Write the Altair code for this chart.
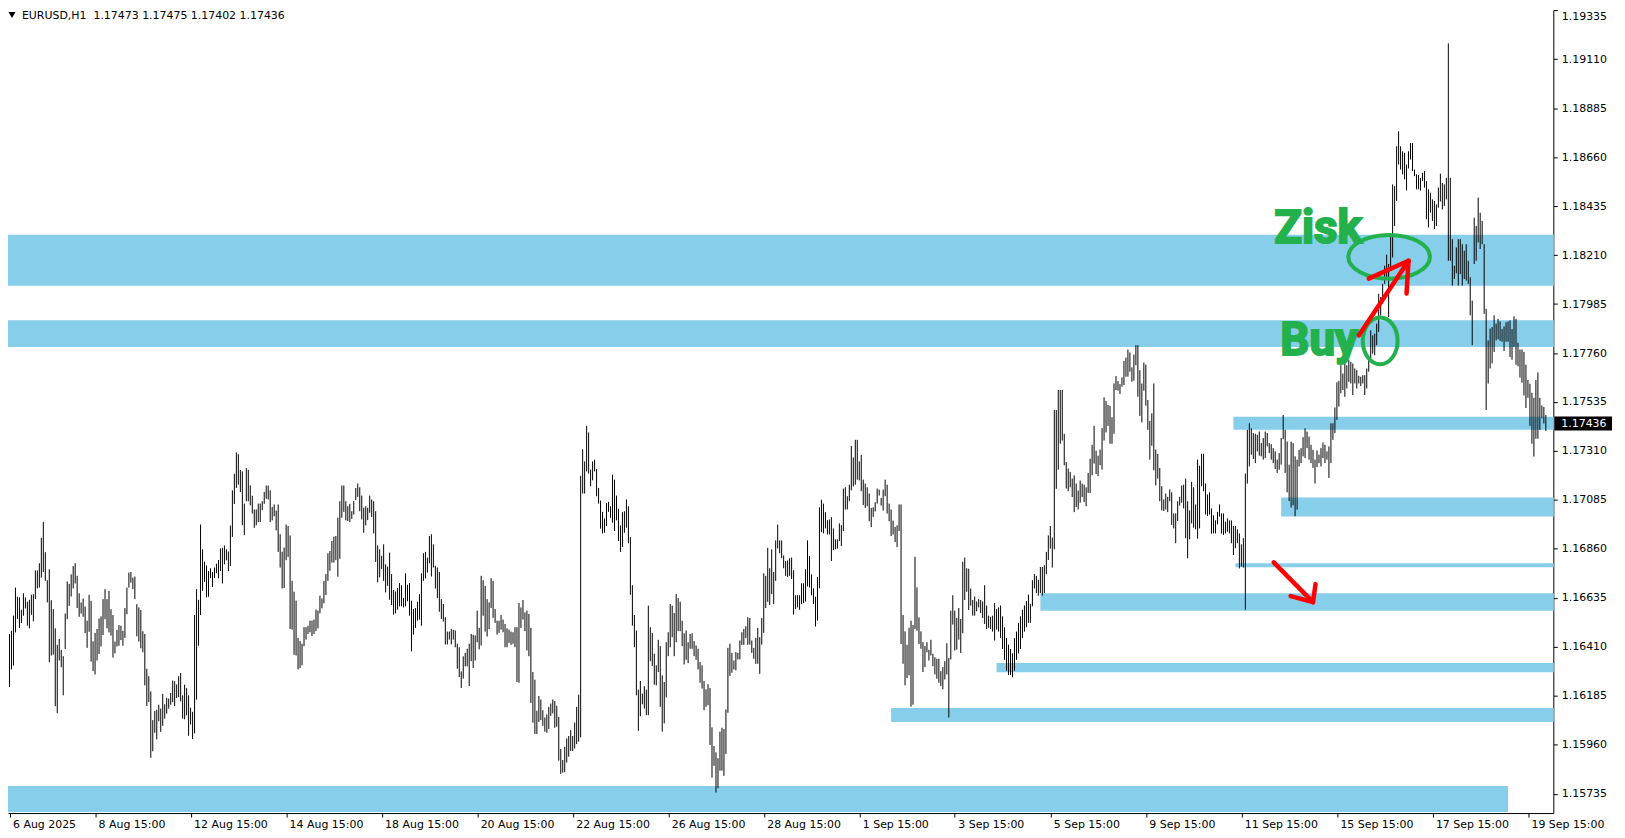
import altair as alt
import pandas as pd

# ---------------- data (EURUSD H1 bars) ----------------
high = [
1.16286,1.16358,1.16377,1.16469,1.16484,1.16553,1.16682,1.16640,1.16637,1.16580,
1.16656,1.16637,1.16617,1.16626,1.16649,1.16652,1.16761,1.16761,1.16794,1.16911,
1.16984,1.16845,1.16716,1.16766,1.16624,1.16583,1.16495,1.16419,1.16446,1.16396,
1.16367,1.16563,1.16710,1.16699,1.16743,1.16781,1.16794,1.16736,1.16656,1.16614,
1.16632,1.16595,1.16530,1.16649,1.16621,1.16435,1.16473,1.16492,1.16540,1.16550,
1.16629,1.16675,1.16629,1.16667,1.16583,1.16556,1.16434,1.16487,1.16510,1.16507,
1.16484,1.16588,1.16682,1.16751,1.16754,1.16728,1.16733,1.16606,1.16591,1.16579,
1.16481,1.16469,1.16309,1.16275,1.16205,1.16073,1.16115,1.16121,1.16144,1.16126,
1.16194,1.16146,1.16176,1.16172,1.16198,1.16255,1.16252,1.16237,1.16275,1.16290,
1.16187,1.16236,1.16220,1.16187,1.16130,1.16111,1.16556,1.16675,1.16626,1.16972,
1.16858,1.16801,1.16784,1.16758,1.16771,1.16754,1.16774,1.16792,1.16809,1.16862,
1.16865,1.16876,1.16858,1.16848,1.16967,1.17129,1.17205,1.17303,1.17295,1.17223,
1.17216,1.17068,1.17231,1.17223,1.17152,1.17104,1.17041,1.17041,1.17068,1.17068,
1.17079,1.17122,1.17151,1.17151,1.17129,1.17052,1.17064,1.17036,1.17064,1.16927,
1.16847,1.16866,1.16972,1.16965,1.16922,1.16713,1.16663,1.16622,1.16451,1.16436,
1.16424,1.16500,1.16500,1.16507,1.16530,1.16530,1.16535,1.16581,1.16576,1.16645,
1.16632,1.16713,1.16744,1.16840,1.16850,1.16896,1.16916,1.16919,1.17003,1.17079,
1.17151,1.17151,1.17079,1.17056,1.17067,1.17033,1.17079,1.17140,1.17160,1.17143,
1.17105,1.17049,1.17056,1.17049,1.17105,1.17087,1.17079,1.17033,1.16876,1.16858,
1.16828,1.16881,1.16789,1.16779,1.16843,1.16744,1.16671,1.16664,1.16680,1.16703,
1.16693,1.16635,1.16748,1.16695,1.16703,1.16622,1.16584,1.16588,1.16617,1.16652,
1.16748,1.16840,1.16846,1.16820,1.16919,1.16927,1.16881,1.16782,1.16774,1.16754,
1.16629,1.16607,1.16546,1.16480,1.16480,1.16492,1.16488,1.16485,1.16424,1.16408,
1.16297,1.16366,1.16382,1.16401,1.16424,1.16469,1.16465,1.16462,1.16576,1.16497,
1.16736,1.16716,1.16690,1.16629,1.16614,1.16725,1.16713,1.16584,1.16530,1.16530,
1.16556,1.16535,1.16515,1.16495,1.16489,1.16480,1.16477,1.16500,1.16500,1.16611,
1.16591,1.16625,1.16568,1.16576,1.16561,1.16497,1.16294,1.16259,1.16116,1.16184,
1.16168,1.16119,1.16085,1.16099,1.16134,1.16149,1.16168,1.16161,1.16139,1.16088,
1.15940,1.15890,1.15951,1.15989,1.16000,1.16027,1.16000,1.16062,1.16134,1.16190,
1.17196,1.17318,1.17262,1.17425,1.17395,1.17224,1.17262,1.17270,1.17227,1.17140,
1.17082,1.17030,1.17000,1.17071,1.17076,1.17056,1.17201,1.17178,1.17105,1.17044,
1.16968,1.17029,1.17033,1.17087,1.17056,1.16914,1.16693,1.16556,1.16485,1.16213,
1.16253,1.16195,1.16229,1.16213,1.16599,1.16500,1.16474,1.16378,1.16325,1.16442,
1.16413,1.16279,1.16248,1.16431,1.16477,1.16607,1.16599,1.16565,1.16652,1.16634,
1.16617,1.16530,1.16472,1.16485,1.16431,1.16469,1.16472,1.16436,1.16416,1.16401,
1.16340,1.16325,1.16253,1.16215,1.16238,1.16221,1.16040,1.15954,1.15925,1.15898,
1.16020,1.16038,1.16032,1.16122,1.16405,1.16424,1.16382,1.16347,1.16386,1.16382,
1.16439,1.16477,1.16492,1.16504,1.16546,1.16542,1.16439,1.16405,1.16451,1.16497,
1.16454,1.16542,1.16748,1.16736,1.16865,1.16771,1.16858,1.16754,1.16899,1.16972,
1.16899,1.16899,1.16830,1.16804,1.16807,1.16817,1.16820,1.16762,1.16647,1.16647,
1.16647,1.16702,1.16702,1.16766,1.16899,1.16827,1.16743,1.16679,1.16640,1.16731,
1.17051,1.17086,1.17068,1.17029,1.16992,1.16995,1.17006,1.16954,1.16904,1.16904,
1.16977,1.16969,1.17137,1.17143,1.17102,1.17155,1.17333,1.17280,1.17361,1.17361,
1.17262,1.17292,1.17178,1.17160,1.17143,1.17114,1.17048,1.17051,1.17074,1.17137,
1.17132,1.17094,1.17132,1.17178,1.17155,1.17068,1.17041,1.16990,1.16961,1.16968,
1.17064,1.17064,1.16556,1.16481,1.16419,1.16497,1.16530,1.16510,1.16824,1.16683,
1.16545,1.16481,1.16431,1.16413,1.16431,1.16396,1.16442,1.16378,1.16362,1.16355,
1.16355,1.16298,1.16317,1.16344,1.16426,1.16358,1.16576,1.16647,1.16576,1.16542,
1.16588,1.16538,1.16801,1.16820,1.16771,1.16769,1.16678,1.16625,1.16641,1.16618,
1.16629,1.16625,1.16618,1.16693,1.16599,1.16553,1.16548,1.16553,1.16611,1.16583,
1.16591,1.16600,1.16550,1.16500,1.16450,1.16420,1.16400,1.16380,1.16450,1.16480,
1.16520,1.16550,1.16580,1.16600,1.16620,1.16650,1.16607,1.16716,1.16744,1.16736,
1.16718,1.16777,1.16777,1.16785,1.16846,1.16922,1.16965,1.16912,1.17498,1.17498,
1.17590,1.17590,1.17590,1.17389,1.17259,1.17229,1.17213,1.17183,1.17198,1.17160,
1.17128,1.17174,1.17160,1.17155,1.17143,1.17209,1.17274,1.17338,1.17425,1.17311,
1.17288,1.17316,1.17415,1.17556,1.17540,1.17521,1.17517,1.17465,1.17620,1.17654,
1.17631,1.17617,1.17648,1.17723,1.17739,1.17776,1.17762,1.17694,1.17753,1.17796,
1.17796,1.17681,1.17620,1.17716,1.17707,1.17544,1.17448,1.17483,1.17620,1.17316,
1.17296,1.17232,1.17148,1.17087,1.17114,1.17099,1.17133,1.17120,1.17023,1.17023,
1.17079,1.17099,1.17151,1.17155,1.17183,1.17079,1.17037,1.17168,1.17143,1.17064,
1.17270,1.17242,1.17297,1.17297,1.17160,1.17110,1.17120,1.17046,1.17014,1.16991,
1.17030,1.17064,1.17023,1.17023,1.16985,1.17000,1.16991,1.16991,1.16965,1.16965,
1.16950,1.16931,1.16881,1.16909,1.17206,1.17407,1.17437,1.17414,1.17392,1.17389,
1.17384,1.17399,1.17346,1.17369,1.17399,1.17392,1.17346,1.17341,1.17323,1.17308,
1.17270,1.17300,1.17369,1.17475,1.17407,1.17353,1.17247,1.17353,1.17346,1.17285,
1.17270,1.17315,1.17323,1.17373,1.17414,1.17399,1.17376,1.17338,1.17315,1.17270,
1.17312,1.17293,1.17323,1.17349,1.17338,1.17308,1.17331,1.17437,1.17437,1.17510,
1.17625,1.17632,1.17704,1.17666,1.17712,1.17704,1.17727,1.17719,1.17712,1.17689,
1.17681,1.17655,1.17651,1.17658,1.17658,1.17689,1.17727,1.17864,1.17841,1.17849,
1.17895,1.18032,1.18017,1.18078,1.18161,1.18212,1.18169,1.18299,1.18535,1.18527,
1.18710,1.18779,1.18710,1.18687,1.18680,1.18626,1.18687,1.18725,1.18725,1.18603,
1.18581,1.18578,1.18565,1.18588,1.18596,1.18550,1.18512,1.18497,1.18466,1.18459,
1.18443,1.18520,1.18584,1.18542,1.18535,1.18565,1.19183,1.18565,1.18283,1.18161,
1.18245,1.18283,1.18283,1.18260,1.18230,1.18260,1.18184,1.18108,1.18001,1.18382,
1.18344,1.18474,1.18405,1.18367,1.18260,1.17963,1.17818,1.17872,1.17879,1.17933,
1.17895,1.17917,1.17905,1.17870,1.17882,1.17901,1.17905,1.17910,1.17870,1.17929,
1.17917,1.17807,1.17776,1.17776,1.17765,1.17706,1.17636,1.17619,1.17577,1.17554,
1.17636,1.17671,1.17554,1.17519,1.17512,1.17475,
]

low = [
1.16004,1.16167,1.16217,1.16225,1.16306,1.16324,1.16476,1.16537,1.16496,1.16519,
1.16553,1.16586,1.16507,1.16495,1.16557,1.16527,1.16629,1.16678,1.16682,1.16728,
1.16754,1.16713,1.16614,1.16339,1.16370,1.16374,1.16137,1.16105,1.16347,1.16316,
1.16187,1.16400,1.16537,1.16598,1.16641,1.16678,1.16701,1.16588,1.16548,1.16563,
1.16548,1.16473,1.16405,1.16479,1.16342,1.16298,1.16283,1.16347,1.16377,1.16412,
1.16464,1.16537,1.16495,1.16476,1.16461,1.16361,1.16380,1.16411,1.16415,1.16441,
1.16415,1.16451,1.16560,1.16682,1.16705,1.16675,1.16629,1.16458,1.16434,1.16403,
1.16385,1.16233,1.16138,1.16156,1.15900,1.15930,1.16015,1.15984,1.16068,1.16019,
1.16047,1.16080,1.16103,1.16126,1.16144,1.16156,1.16138,1.16175,1.16179,1.16159,
1.16080,1.16077,1.16095,1.16001,1.16053,1.15986,1.16012,1.16167,1.16415,1.16556,
1.16667,1.16708,1.16637,1.16640,1.16725,1.16685,1.16726,1.16748,1.16725,1.16758,
1.16701,1.16789,1.16807,1.16758,1.16781,1.16915,1.17066,1.17140,1.17155,1.17121,
1.16969,1.16923,1.17079,1.17079,1.17060,1.17022,1.16957,1.16968,1.16983,1.16983,
1.17038,1.17067,1.17090,1.17087,1.16983,1.16991,1.17010,1.16945,1.16846,1.16774,
1.16678,1.16680,1.16808,1.16823,1.16492,1.16489,1.16373,1.16370,1.16306,1.16312,
1.16325,1.16413,1.16443,1.16469,1.16477,1.16459,1.16469,1.16482,1.16495,1.16564,
1.16587,1.16610,1.16648,1.16713,1.16759,1.16797,1.16797,1.16808,1.16732,1.16815,
1.17003,1.17030,1.16991,1.16988,1.16983,1.16998,1.17018,1.17084,1.17099,1.17033,
1.16995,1.16934,1.16968,1.16992,1.17026,1.17007,1.16931,1.16800,1.16706,1.16729,
1.16767,1.16713,1.16660,1.16690,1.16626,1.16602,1.16558,1.16564,1.16581,1.16596,
1.16596,1.16591,1.16596,1.16619,1.16553,1.16389,1.16466,1.16497,1.16530,1.16535,
1.16507,1.16713,1.16724,1.16751,1.16794,1.16733,1.16774,1.16678,1.16634,1.16571,
1.16538,1.16526,1.16421,1.16421,1.16443,1.16421,1.16443,1.16408,1.16309,1.16271,
1.16221,1.16264,1.16320,1.16320,1.16230,1.16344,1.16312,1.16347,1.16431,1.16398,
1.16416,1.16553,1.16480,1.16457,1.16492,1.16588,1.16543,1.16520,1.16466,1.16474,
1.16489,1.16477,1.16408,1.16408,1.16428,1.16419,1.16424,1.16408,1.16248,1.16245,
1.16497,1.16535,1.16482,1.16393,1.16367,1.16152,1.16061,1.16009,1.16009,1.16065,
1.16073,1.16047,1.16020,1.16015,1.16032,1.16093,1.16104,1.16038,1.16043,1.15887,
1.15826,1.15832,1.15834,1.15878,1.15905,1.15931,1.15931,1.15943,1.15963,1.15974,
1.15994,1.17114,1.17114,1.17216,1.17206,1.17148,1.17175,1.17216,1.17102,1.17068,
1.16953,1.16931,1.16934,1.16965,1.17030,1.17003,1.16980,1.16942,1.16991,1.16896,
1.16846,1.16869,1.16934,1.16957,1.16886,1.16649,1.16507,1.16408,1.16187,1.16024,
1.16091,1.16146,1.16126,1.16096,1.16096,1.16344,1.16322,1.16236,1.16233,1.16294,
1.16134,1.16020,1.16058,1.16177,1.16367,1.16408,1.16454,1.16367,1.16431,1.16482,
1.16482,1.16413,1.16329,1.16350,1.16335,1.16401,1.16401,1.16367,1.16350,1.16306,
1.16245,1.16218,1.16119,1.16134,1.16142,1.15959,1.15809,1.15863,1.15740,1.15760,
1.15841,1.15841,1.15817,1.15918,1.16107,1.16276,1.16291,1.16306,1.16302,1.16352,
1.16352,1.16419,1.16419,1.16450,1.16419,1.16420,1.16382,1.16355,1.16332,1.16332,
1.16286,1.16420,1.16474,1.16588,1.16617,1.16602,1.16652,1.16606,1.16713,1.16862,
1.16840,1.16817,1.16771,1.16736,1.16731,1.16736,1.16721,1.16558,1.16583,1.16591,
1.16580,1.16606,1.16611,1.16618,1.16687,1.16683,1.16647,1.16606,1.16503,1.16530,
1.16679,1.16937,1.16931,1.16954,1.16926,1.16926,1.16804,1.16855,1.16858,1.16861,
1.16896,1.16873,1.16942,1.17041,1.17041,1.17079,1.17129,1.17147,1.17155,1.17178,
1.17175,1.17125,1.17061,1.17048,1.17056,1.16987,1.16960,1.17007,1.17032,1.17068,
1.17105,1.17059,1.17036,1.17102,1.17022,1.16987,1.16919,1.16926,1.16891,1.16868,
1.16942,1.16423,1.16332,1.16233,1.16266,1.16279,1.16135,1.16144,1.16492,1.16484,
1.16423,1.16401,1.16294,1.16317,1.16385,1.16347,1.16370,1.16321,1.16283,1.16263,
1.16245,1.16230,1.16215,1.16260,1.16283,1.16085,1.16352,1.16512,1.16393,1.16397,
1.16443,1.16382,1.16472,1.16625,1.16663,1.16579,1.16599,1.16553,1.16553,1.16573,
1.16591,1.16565,1.16542,1.16515,1.16492,1.16497,1.16492,1.16480,1.16439,1.16489,
1.16480,1.16450,1.16400,1.16350,1.16300,1.16280,1.16280,1.16270,1.16300,1.16350,
1.16380,1.16400,1.16450,1.16480,1.16500,1.16520,1.16520,1.16596,1.16678,1.16657,
1.16645,1.16657,1.16645,1.16657,1.16744,1.16809,1.16861,1.16774,1.16858,1.17136,
1.17224,1.17343,1.17358,1.17244,1.17137,1.17125,1.17143,1.17098,1.17029,1.17052,
1.17041,1.17072,1.17098,1.17075,1.17056,1.17117,1.17117,1.17198,1.17252,1.17204,
1.17194,1.17244,1.17224,1.17358,1.17395,1.17425,1.17343,1.17343,1.17389,1.17590,
1.17587,1.17572,1.17605,1.17613,1.17651,1.17651,1.17674,1.17628,1.17633,1.17704,
1.17559,1.17471,1.17441,1.17587,1.17518,1.17407,1.17270,1.17334,1.17221,1.17152,
1.17183,1.17079,1.17037,1.17034,1.17041,1.17029,1.17079,1.16970,1.16954,1.16886,
1.16988,1.17059,1.17072,1.17046,1.16909,1.16817,1.16904,1.16977,1.16957,1.16950,
1.16907,1.16954,1.17148,1.17125,1.17018,1.17011,1.17018,1.16930,1.16931,1.16931,
1.16973,1.17008,1.16931,1.16924,1.16931,1.16939,1.16931,1.16886,1.16832,1.16863,
1.16886,1.16770,1.16779,1.16774,1.16580,1.17160,1.17239,1.17293,1.17273,1.17254,
1.17308,1.17288,1.17285,1.17270,1.17277,1.17331,1.17300,1.17270,1.17254,1.17227,
1.17209,1.17224,1.17247,1.17364,1.17209,1.17120,1.17080,1.17050,1.17060,1.17010,
1.17040,1.17239,1.17254,1.17285,1.17277,1.17323,1.17270,1.17254,1.17232,1.17160,
1.17236,1.17254,1.17239,1.17277,1.17254,1.17270,1.17186,1.17254,1.17361,1.17392,
1.17453,1.17514,1.17575,1.17590,1.17559,1.17597,1.17628,1.17620,1.17567,1.17620,
1.17597,1.17620,1.17608,1.17620,1.17567,1.17597,1.17674,1.17735,1.17757,1.17750,
1.17796,1.17857,1.17933,1.17986,1.18078,1.18108,1.17925,1.18139,1.18199,1.18344,
1.18459,1.18626,1.18603,1.18581,1.18558,1.18507,1.18608,1.18649,1.18596,1.18573,
1.18512,1.18512,1.18507,1.18550,1.18520,1.18375,1.18337,1.18405,1.18367,1.18329,
1.18344,1.18428,1.18456,1.18420,1.18436,1.18466,1.18184,1.18184,1.18070,1.18100,
1.18126,1.18070,1.18123,1.18070,1.18100,1.18093,1.18078,1.17933,1.17796,1.18169,
1.18184,1.18268,1.18238,1.18260,1.17940,1.17498,1.17620,1.17689,1.17712,1.17765,
1.17818,1.17823,1.17816,1.17812,1.17769,1.17812,1.17812,1.17741,1.17729,1.17788,
1.17706,1.17699,1.17647,1.17624,1.17565,1.17507,1.17554,1.17425,1.17343,1.17284,
1.17366,1.17366,1.17406,1.17460,1.17436,1.17402,
]

# time-axis labels (bar index of each label)
tick_bars = [3, 46, 94, 142, 190, 238, 286, 334, 382, 430, 478, 526, 574, 622, 670, 718, 766]
tick_labels = ["6 Aug 2025", "8 Aug 15:00", "12 Aug 15:00", "14 Aug 15:00", "18 Aug 15:00",
               "20 Aug 15:00", "22 Aug 15:00", "26 Aug 15:00", "28 Aug 15:00", "1 Sep 15:00",
               "3 Sep 15:00", "5 Sep 15:00", "9 Sep 15:00", "11 Sep 15:00", "15 Sep 15:00",
               "17 Sep 15:00", "19 Sep 15:00"]
price_ticks = [1.19335, 1.19110, 1.18885, 1.18660, 1.18435, 1.18210, 1.17985, 1.17760, 1.17535,
               1.17310, 1.17085, 1.16860, 1.16635, 1.16410, 1.16185, 1.15960, 1.15735]

# blue support / resistance zones
zone_lo = [1.18069, 1.17788, 1.17407, 1.17009, 1.16775, 1.16576, 1.16293, 1.16065, 1.15651]
zone_hi = [1.18304, 1.17911, 1.17467, 1.17096, 1.16794, 1.16656, 1.16335, 1.16129, 1.15770]
zone_from = [0, 0, 618, 642, 619, 521, 499, 446, 0]
zone_to = [779, 779, 779, 779, 779, 779, 779, 779, 756]

# annotations
note_text = ["Zisk", "Buy"]
note_bar = [638.5, 641.5]
note_price = [1.18266, 1.17750]
ring_bar = [696.25, 691.75]
ring_price = [1.18202, 1.17816]
arrow_bar0 = [681, 706, 706, 638.25, 658, 658]
arrow_p0 = [1.17841, 1.18184, 1.18184, 1.16798, 1.16615, 1.16615]
arrow_bar1 = [706, 686, 705, 658, 646.75, 659.25]
arrow_p1 = [1.18184, 1.18102, 1.18033, 1.16615, 1.16643, 1.16698]

last_price = 1.17436
title_text = "EURUSD,H1\u00a0\u00a01.17473 1.17475 1.17402 1.17436"

# ---------------- chart ----------------
W, H = 1553, 807
FONT = "DejaVu Sans"
NOTE_FONT = "'Liberation Sans Narrow', 'Arial Narrow', Roboto, 'Liberation Sans', sans-serif"
GREEN = "#22B14C"
BLUE = "#87CEEB"

n = min(len(high), len(low))
bars = pd.DataFrame({"i": list(range(n)), "high": high[:n], "low": low[:n]})
zones = pd.DataFrame({"x0": zone_from, "x1": zone_to, "lo": zone_lo, "hi": zone_hi})
notes = pd.DataFrame({"t": note_text, "b": note_bar, "p": note_price})
arrows = pd.DataFrame({"b0": arrow_bar0, "p0": arrow_p0, "b1": arrow_bar1, "p1": arrow_p1})

xs = alt.Scale(domain=[2.25, 778.75], nice=False, zero=False)
ys = alt.Scale(domain=[1.15646, 1.19336], nice=False, zero=False)

label_expr = ("[" + ",".join("'%s'" % t for t in tick_labels) + "][indexof([" +
              ",".join(str(v) for v in tick_bars) + "], datum.value)]")

x_axis = alt.Axis(values=tick_bars, labelExpr=label_expr, title=None, grid=False, orient="bottom",
                  domainColor="black", domainWidth=1, tickColor="black", tickSize=4, tickWidth=1,
                  labelAlign="left", labelBaseline="top", labelOffset=3, labelPadding=2,
                  labelFont=FONT, labelFontSize=11, labelColor="black",
                  labelOverlap=False, labelFlush=False, labelBound=False)
y_axis = alt.Axis(values=price_ticks, format=".5f", orient="right", title=None, grid=False,
                  domainColor="black", domainWidth=1, tickColor="black", tickSize=4, tickWidth=1,
                  labelPadding=4, labelFont=FONT, labelFontSize=11, labelColor="black",
                  labelOverlap=False, labelFlush=2, labelAlign="left")


def X(field):
    return alt.X(field, scale=xs, axis=x_axis)


def Y(field):
    return alt.Y(field, scale=ys, axis=y_axis)


zone_layer = alt.Chart(zones).mark_rect(color=BLUE, opacity=1).encode(
    x=X("x0:Q"), x2="x1:Q", y=Y("lo:Q"), y2="hi:Q",
)

bar_layer = alt.Chart(bars).mark_rule(color="black", strokeWidth=1, opacity=1).encode(
    x=X("i:Q"), y=Y("low:Q"), y2="high:Q",
)

note_layer = alt.Chart(notes).mark_text(
    align="left", baseline="alphabetic", font=NOTE_FONT, fontWeight="bold",
    fontSize=46, color=GREEN, stroke=GREEN, strokeWidth=2
).encode(x=X("b:Q"), y=Y("p:Q"), text="t:N")

big_path = "M -1 0 A 1 0.537 0 1 0 1 0 A 1 0.537 0 1 0 -1 0 Z"
small_path = "M -0.745 0 A 0.745 1 0 1 0 0.745 0 A 0.745 1 0 1 0 -0.745 0 Z"

ring1 = alt.Chart(pd.DataFrame({"b": [ring_bar[0]], "p": [ring_price[0]]})).mark_point(
    shape=big_path, size=6724, filled=False, color=GREEN, strokeWidth=4, opacity=1
).encode(x=X("b:Q"), y=Y("p:Q"))

ring2 = alt.Chart(pd.DataFrame({"b": [ring_bar[1]], "p": [ring_price[1]]})).mark_point(
    shape=small_path, size=2209, filled=False, color=GREEN, strokeWidth=4, opacity=1
).encode(x=X("b:Q"), y=Y("p:Q"))

arrow_layer = alt.Chart(arrows).mark_rule(color="#FF0000", strokeWidth=4.5, strokeCap="round").encode(
    x=X("b0:Q"), x2="b1:Q", y=Y("p0:Q"), y2="p1:Q",
)

lp = pd.DataFrame({"p": [last_price]})
box_layer = alt.Chart(lp).mark_tick(orient="horizontal", size=58, thickness=14, color="black", opacity=1).encode(
    y=Y("p:Q"), x=alt.value(W + 30),
)
box_text = alt.Chart(lp).mark_text(color="white", font=FONT, fontSize=11, align="left", baseline="middle").encode(
    y=Y("p:Q"), x=alt.value(W + 8), text=alt.Text("p:Q", format=".5f"),
)

title_layer = alt.Chart(pd.DataFrame({"t": [title_text]})).mark_text(
    align="left", baseline="middle", font=FONT, fontSize=11, color="black"
).encode(text="t:N", x=alt.value(14), y=alt.value(5.5))

tri_layer = alt.Chart(pd.DataFrame({"a": [0]})).mark_point(
    shape="triangle-down", filled=True, color="black", size=50, opacity=1
).encode(x=alt.value(4), y=alt.value(5))

chart = alt.layer(
    zone_layer, bar_layer, note_layer, ring1, ring2, arrow_layer, box_layer, box_text, title_layer, tri_layer
).properties(
    width=W, height=H,
    autosize=alt.AutoSizeParams(type="none"),
    padding={"left": 0, "top": 0, "right": 64, "bottom": 23},
    background="white",
).configure_view(strokeWidth=0)

chart.save("out.html", embed_options={"renderer": "svg", "actions": False})
